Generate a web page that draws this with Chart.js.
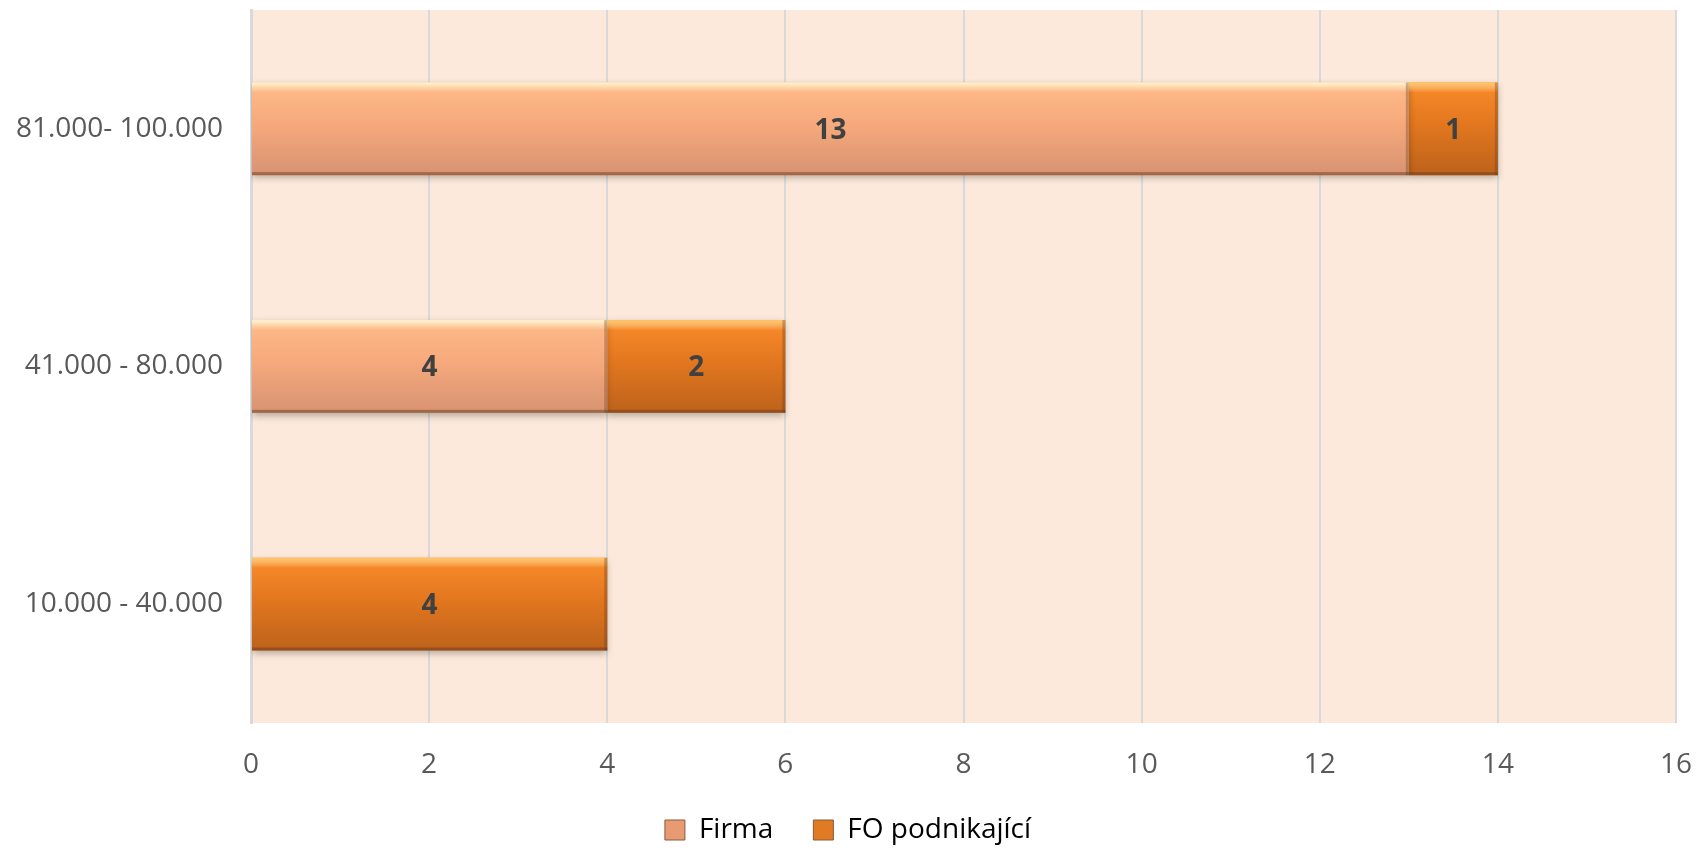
<!DOCTYPE html>
<html>
<head>
<meta charset="utf-8">
<script src="https://cdn.jsdelivr.net/npm/chart.js@4/dist/chart.umd.min.js"></script>
<style>
  html, body { margin: 0; padding: 0; background: #fff; }
  #wrap { width: 1696px; height: 850px; position: relative; }
</style>
</head>
<body>
<div id="wrap"><canvas id="chart"></canvas></div>
<script>
const categories = ["81.000- 100.000", "41.000 - 80.000", "10.000 - 40.000"];
const firmaValues = [13, 4, null];
const foValues = [1, 2, 4];
const xTicks = [0, 2, 4, 6, 8, 10, 12, 14, 16];

const BAR_PCT = 0.39;
const firmaColors = ["#ffbb8a", "#f6a97c", "#d79372"];
const foColors = ["#fa8c2a", "#e2771f", "#bd621b"];

function barGradient(ctx, stops) {
  const chart = ctx.chart;
  const ys = chart.scales.y;
  if (!chart.chartArea || !ys || ctx.dataIndex === undefined) return stops[1];
  const center = ys.getPixelForValue(ctx.dataIndex);
  const h = (chart.chartArea.bottom - chart.chartArea.top) / categories.length * BAR_PCT;
  const top = center - h / 2, bottom = center + h / 2;
  if (!isFinite(top) || !isFinite(bottom)) return stops[1];
  const g = chart.ctx.createLinearGradient(0, top, 0, bottom);
  g.addColorStop(0, stops[0]);
  g.addColorStop(0.45, stops[1]);
  g.addColorStop(1, stops[2]);
  return g;
}

const plotBackground = {
  id: "plotBackground",
  beforeDraw(chart) {
    const { ctx, chartArea: a } = chart;
    ctx.save();
    ctx.fillStyle = "#fce9db";
    ctx.fillRect(a.left, a.top, a.right - a.left, a.bottom - a.top);
    ctx.restore();
  }
};

const barShadow = {
  id: "barShadow",
  beforeDatasetsDraw(chart) {
    const ctx = chart.ctx;
    ctx.save();
    ctx.shadowColor = "rgba(0,0,0,0.28)";
    ctx.shadowBlur = 7;
    ctx.shadowOffsetY = 3;
  },
  afterDatasetsDraw(chart) {
    chart.ctx.restore();
    // bevel edges and value labels
    const ctx = chart.ctx;
    chart.data.datasets.forEach((ds, i) => {
      const meta = chart.getDatasetMeta(i);
      meta.data.forEach((bar, j) => {
        const v = ds.data[j];
        if (v === null || v === undefined) return;
        const left = Math.min(bar.base, bar.x), right = Math.max(bar.base, bar.x);
        const top = bar.y - bar.height / 2, bottom = bar.y + bar.height / 2;
        ctx.save();
        const hl = ctx.createLinearGradient(0, top, 0, top + 10);
        hl.addColorStop(0, i === 0 ? "rgba(255,250,215,0.95)" : "rgba(255,205,110,0.9)");
        hl.addColorStop(1, "rgba(255,240,200,0)");
        ctx.fillStyle = hl;
        ctx.fillRect(left, top, right - left, 10);
        ctx.fillStyle = "rgba(110,60,25,0.5)";
        ctx.fillRect(left, bottom - 3, right - left, 3);
        ctx.fillStyle = "rgba(110,60,25,0.35)";
        ctx.fillRect(right - 3, top, 3, bottom - top);
        ctx.fillStyle = "#404040";
        ctx.font = "bold 28px 'Open Sans', sans-serif";
        ctx.textAlign = "center";
        ctx.textBaseline = "middle";
        ctx.fillText(String(v), (left + right) / 2, bar.y + 2);
        ctx.restore();
      });
    });
  }
};

new Chart(document.getElementById("chart"), {
  type: "bar",
  data: {
    labels: categories,
    datasets: [
      {
        label: "Firma",
        data: firmaValues,
        backgroundColor: (c) => barGradient(c, firmaColors),
        borderWidth: 0,
        categoryPercentage: 1,
        barPercentage: BAR_PCT
      },
      {
        label: "FO podnikající",
        data: foValues,
        backgroundColor: (c) => barGradient(c, foColors),
        borderWidth: 0,
        categoryPercentage: 1,
        barPercentage: BAR_PCT
      }
    ]
  },
  options: {
    indexAxis: "y",
    responsive: true,
    maintainAspectRatio: false,
    animation: false,
    layout: { padding: { left: 0, right: 0, top: 10, bottom: -4 } },
    scales: {
      x: {
        stacked: true,
        min: 0,
        max: 16,
        afterBuildTicks(axis) { axis.ticks = xTicks.map(v => ({ value: v })); },
        afterFit(axis) { axis.height = 53; axis.paddingRight = 20; axis.paddingLeft = 0; },
        grid: { color: "#d9d9d9", lineWidth: 2, drawTicks: false },
        border: { display: false },
        ticks: {
          color: "#595959",
          font: { family: "'Open Sans', sans-serif", size: 28 },
          padding: 25
        }
      },
      y: {
        stacked: true,
        afterFit(axis) { axis.width = 251; axis.paddingTop = 0; axis.paddingBottom = 0; },
        grid: { display: false, drawTicks: false },
        border: { display: true, color: "#d9d9d9", width: 3 },
        ticks: {
          color: "#595959",
          font: { family: "'Open Sans', sans-serif", size: 28 },
          padding: 28
        }
      }
    },
    plugins: {
      legend: {
        position: "bottom",
        labels: {
          color: "#595959",
          font: { family: "'Open Sans', sans-serif", size: 28 },
          boxWidth: 20,
          boxHeight: 20,
          padding: 40,
          generateLabels(chart) {
            const fills = ["#e89a72", "#e07a24"];
            return chart.data.datasets.map((ds, i) => ({
              text: ds.label,
              fillStyle: fills[i],
              strokeStyle: "#8a5a3a",
              lineWidth: 1,
              datasetIndex: i,
              hidden: false
            }));
          }
        }
      },
      tooltip: { enabled: false }
    }
  },
  plugins: [plotBackground, barShadow]
});
</script>
</body>
</html>
